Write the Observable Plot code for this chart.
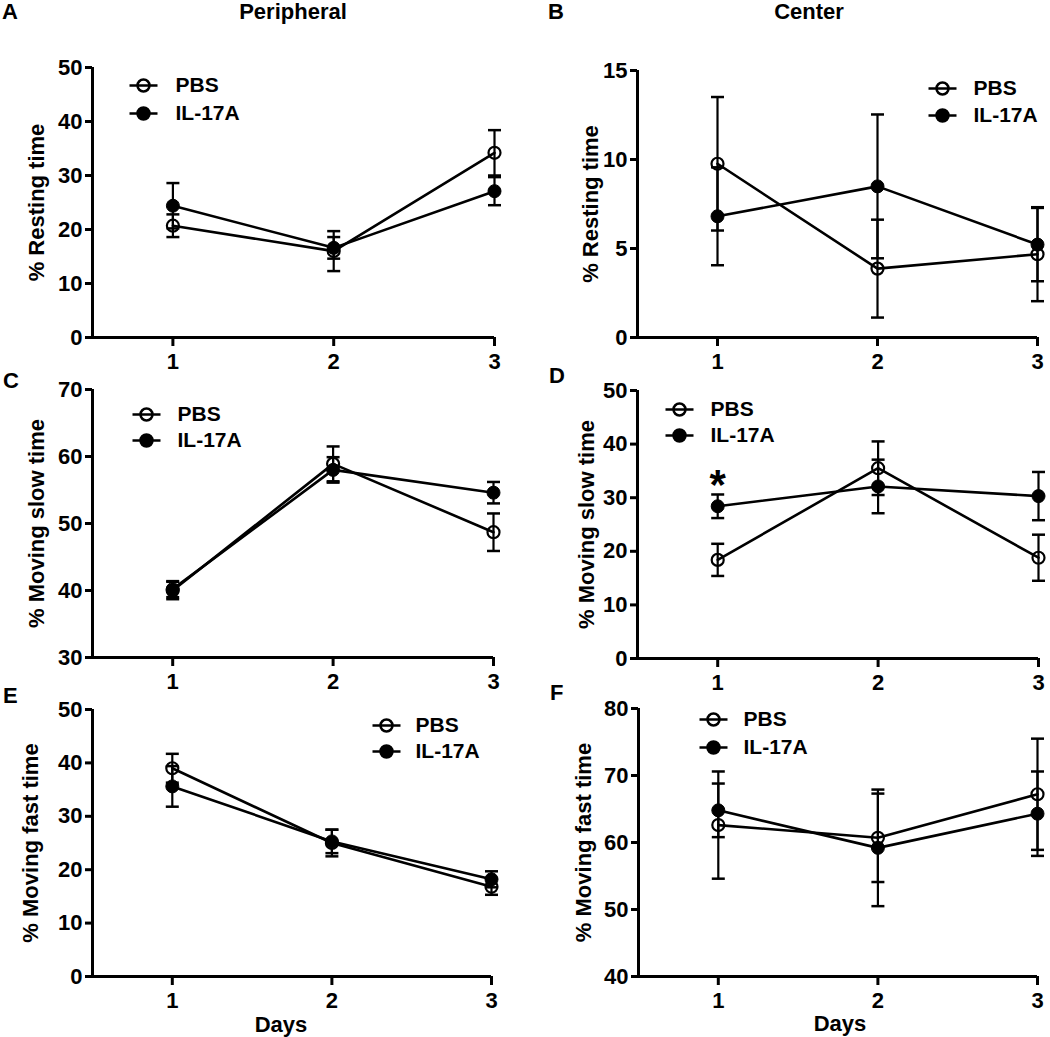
<!DOCTYPE html>
<html><head><meta charset="utf-8">
<script src="https://cdn.jsdelivr.net/npm/d3@7"></script>
<script src="https://cdn.jsdelivr.net/npm/@observablehq/plot@0.6"></script>
<style>
body{margin:0;background:#fff;}
#fig{position:relative;width:1050px;height:1037px;background:#fff;font-family:"Liberation Sans",Arial,sans-serif;font-weight:bold;color:#000;overflow:hidden}
.lbl{position:absolute;font-size:22px;line-height:1.1;white-space:nowrap;}
.panel{position:absolute;}
</style></head><body><div id="fig"></div>
<script>
// ---------- data ----------
const days = [1, 2, 3];
const series = ["PBS", "IL-17A"];
const columnTitles = ["Peripheral", "Center"];
const panelLetters = ["A", "B", "C", "D", "E", "F"];
const yLabels = ["% Resting time", "% Resting time", "% Moving slow time", "% Moving slow time", "% Moving fast time", "% Moving fast time"];
const yDomains = [[0, 50], [0, 15], [30, 70], [0, 50], [0, 50], [40, 80]];
const yTicks = [[0,10,20,30,40,50], [0,5,10,15], [30,40,50,60,70], [0,10,20,30,40,50], [0,10,20,30,40,50], [40,50,60,70,80]];
const xLabel = "Days";

// Panel A: peripheral, resting
const pbsMeanA = [20.7, 16.0, 34.2], pbsErrA = [2.1, 3.7, 4.2];
const ilMeanA  = [24.4, 16.6, 27.1], ilErrA  = [4.2, 2.0, 2.6];
// Panel B: center, resting
const pbsMeanB = [9.76, 3.87, 4.68], pbsErrB = [3.75, 2.75, 2.64];
const ilMeanB  = [6.81, 8.49, 5.22], ilErrB  = [2.75, 4.04, 2.06];
// Panel C: peripheral, moving slow
const pbsMeanC = [40.0, 58.9, 48.7], pbsErrC = [1.3, 2.6, 2.8];
const ilMeanC  = [40.2, 58.0, 54.6], ilErrC  = [1.2, 1.9, 1.6];
// Panel D: center, moving slow
const pbsMeanD = [18.4, 35.5, 18.8], pbsErrD = [3.0, 5.0, 4.3];
const ilMeanD  = [28.4, 32.1, 30.3], ilErrD  = [2.2, 5.0, 4.5];
// Panel E: peripheral, moving fast
const pbsMeanE = [39.0, 25.0, 16.8], pbsErrE = [2.7, 2.5, 1.5];
const ilMeanE  = [35.6, 25.3, 18.2], ilErrE  = [3.8, 2.2, 1.5];
// Panel F: center, moving fast
const pbsMeanF = [62.6, 60.7, 67.2], pbsErrF = [8.0, 6.6, 8.3];
const ilMeanF  = [64.8, 59.2, 64.3], ilErrF  = [4.0, 8.7, 6.3];

// significance marker (panel D, day 1)
const sigPanel = 3, sigDay = [1], sigValue = [33.5], sigText = "*";

const panelMeans = [
  [pbsMeanA, ilMeanA], [pbsMeanB, ilMeanB], [pbsMeanC, ilMeanC],
  [pbsMeanD, ilMeanD], [pbsMeanE, ilMeanE], [pbsMeanF, ilMeanF]
];
const panelErrs = [
  [pbsErrA, ilErrA], [pbsErrB, ilErrB], [pbsErrC, ilErrC],
  [pbsErrD, ilErrD], [pbsErrE, ilErrE], [pbsErrF, ilErrF]
];

// ---------- layout (style only) ----------
const layout = [
  {left: 0,   top: 0,   width: 525, height: 372, mt: 67, mb: 35, ml: 92,  mr: 31, labelOffset: 64, leg: {dx: 51,  dy: 18, gap: 28, tdx: 32}},
  {left: 525, top: 0,   width: 525, height: 372, mt: 70, mb: 35, ml: 112, mr: 13, labelOffset: 55, leg: {dx: 305, dy: 18, gap: 27, tdx: 31}},
  {left: 0,   top: 372, width: 525, height: 318, mt: 17, mb: 33, ml: 92,  mr: 32, labelOffset: 64, leg: {dx: 54,  dy: 25, gap: 26, tdx: 31}},
  {left: 525, top: 372, width: 525, height: 318, mt: 18, mb: 32, ml: 112, mr: 12, labelOffset: 59, leg: {dx: 42,  dy: 19, gap: 26, tdx: 31}},
  {left: 0,   top: 690, width: 525, height: 347, mt: 19, mb: 61, ml: 92,  mr: 34, labelOffset: 70, leg: {dx: 294, dy: 16, gap: 26, tdx: 29}, days: {dx: -11, dy: 48}},
  {left: 525, top: 690, width: 525, height: 347, mt: 18, mb: 61, ml: 113, mr: 13, labelOffset: 63, leg: {dx: 75,  dy: 11, gap: 28, tdx: 30}, days: {dx: 2, dy: 47}}
];
const FS = 22;      // axis text size
const LFS = 21;     // legend text size

const capSymbol = {draw(ctx) { ctx.moveTo(-6.5, 0); ctx.lineTo(6.5, 0); }};
const legendSymbol = {draw(ctx) {
  ctx.moveTo(-14, 0); ctx.lineTo(14, 0);
  ctx.moveTo(6, 0); ctx.arc(0, 0, 6, 0, 2 * Math.PI);
}};

const fig = document.getElementById("fig");

function addLabel(text, x, y, center) {
  const d = document.createElement("div");
  d.className = "lbl";
  d.textContent = text;
  d.style.left = x + "px";
  d.style.top = y + "px";
  if (center) d.style.transform = "translateX(-50%)";
  fig.appendChild(d);
}

const txt = {fontSize: FS, fontWeight: "bold", fill: "black"};

panelMeans.forEach((means, p) => {
  const L = layout[p];
  const rows = [];
  series.forEach((s, si) => days.forEach((d, di) => {
    rows.push({day: d, series: s, mean: means[si][di], err: panelErrs[p][si][di]});
  }));
  const marks = [
    Plot.ruleY([yDomains[p][0]], {stroke: "black", strokeWidth: 3, insetLeft: -7}),
    Plot.ruleX([0.5], {stroke: "black", strokeWidth: 3}),
    // tick marks only
    Plot.axisY({ticks: yTicks[p], tickSize: 7, strokeWidth: 3, tickFormat: () => "", label: null}),
    Plot.axisX({ticks: days, tickSize: 9, strokeWidth: 3, tickFormat: () => "", label: null}),
    // tick labels
    Plot.text(yTicks[p], {y: d => d, text: d => String(d), frameAnchor: "left", dx: -10,
      textAnchor: "end", lineAnchor: "middle", ...txt}),
    Plot.text(days, {x: d => d, text: d => String(d), frameAnchor: "bottom", dy: 16,
      textAnchor: "middle", lineAnchor: "top", ...txt}),
    // y axis title
    Plot.text([yLabels[p]], {text: d => d, frameAnchor: "left", rotate: -90, dx: -L.labelOffset,
      textAnchor: "middle", lineAnchor: "top", ...txt}),
    // error bars
    Plot.ruleX(rows, {x: "day", y1: d => d.mean - d.err, y2: d => d.mean + d.err, stroke: "black", strokeWidth: 2.2}),
    Plot.dot(rows, {x: "day", y: d => d.mean - d.err, symbol: capSymbol, stroke: "black", strokeWidth: 2.5, fill: "none"}),
    Plot.dot(rows, {x: "day", y: d => d.mean + d.err, symbol: capSymbol, stroke: "black", strokeWidth: 2.5, fill: "none"}),
    // lines and markers
    Plot.line(rows, {x: "day", y: "mean", z: "series", stroke: "black", strokeWidth: 2.6}),
    Plot.dot(rows.filter(d => d.series === series[0]), {x: "day", y: "mean", r: 6, stroke: "black", strokeWidth: 2.2, fill: "none"}),
    Plot.dot(rows.filter(d => d.series === series[1]), {x: "day", y: "mean", r: 6.5, stroke: "black", strokeWidth: 1, fill: "black"})
  ];
  // legend
  series.forEach((s, si) => {
    marks.push(Plot.dot([s], {frameAnchor: "top-left", dx: L.leg.dx, dy: L.leg.dy + si * L.leg.gap,
      symbol: legendSymbol, stroke: "black", strokeWidth: 2.5, fill: si === 0 ? "none" : "black"}));
    marks.push(Plot.text([s], {text: d => d, frameAnchor: "top-left", dx: L.leg.dx + L.leg.tdx, dy: L.leg.dy + si * L.leg.gap,
      textAnchor: "start", lineAnchor: "middle", fontSize: LFS, fontWeight: "bold", fill: "black"}));
  });
  if (p === sigPanel) {
    marks.push(Plot.text(sigDay.map((d, i) => ({day: d, v: sigValue[i]})), {x: "day", y: "v", text: () => sigText,
      fontSize: 42, fontWeight: "bold", lineAnchor: "middle", dy: 7, fill: "black"}));
  }
  if (L.days) {
    marks.push(Plot.text([xLabel], {text: d => d, frameAnchor: "bottom", dx: L.days.dx, dy: L.days.dy,
      lineAnchor: "middle", ...txt}));
  }
  const chart = Plot.plot({
    width: L.width, height: L.height,
    marginTop: L.mt, marginBottom: L.mb, marginLeft: L.ml, marginRight: L.mr,
    x: {domain: [0.5, 3], type: "linear", axis: null},
    y: {domain: yDomains[p], type: "linear", axis: null},
    style: {fontFamily: "'Liberation Sans', Arial, sans-serif", fontWeight: "bold",
            background: "transparent", overflow: "visible", color: "black"},
    marks
  });
  const wrap = document.createElement("div");
  wrap.className = "panel";
  wrap.style.left = L.left + "px";
  wrap.style.top = L.top + "px";
  wrap.appendChild(chart);
  fig.appendChild(wrap);
});

// column titles and panel letters
addLabel(columnTitles[0], 293, 0, true);
addLabel(columnTitles[1], 809, 0, true);
const letterPos = [[2, 0], [548, 0], [3, 369], [549, 364], [3, 684], [550, 681]];
panelLetters.forEach((t, i) => addLabel(t, letterPos[i][0], letterPos[i][1], false));
</script></body></html>
